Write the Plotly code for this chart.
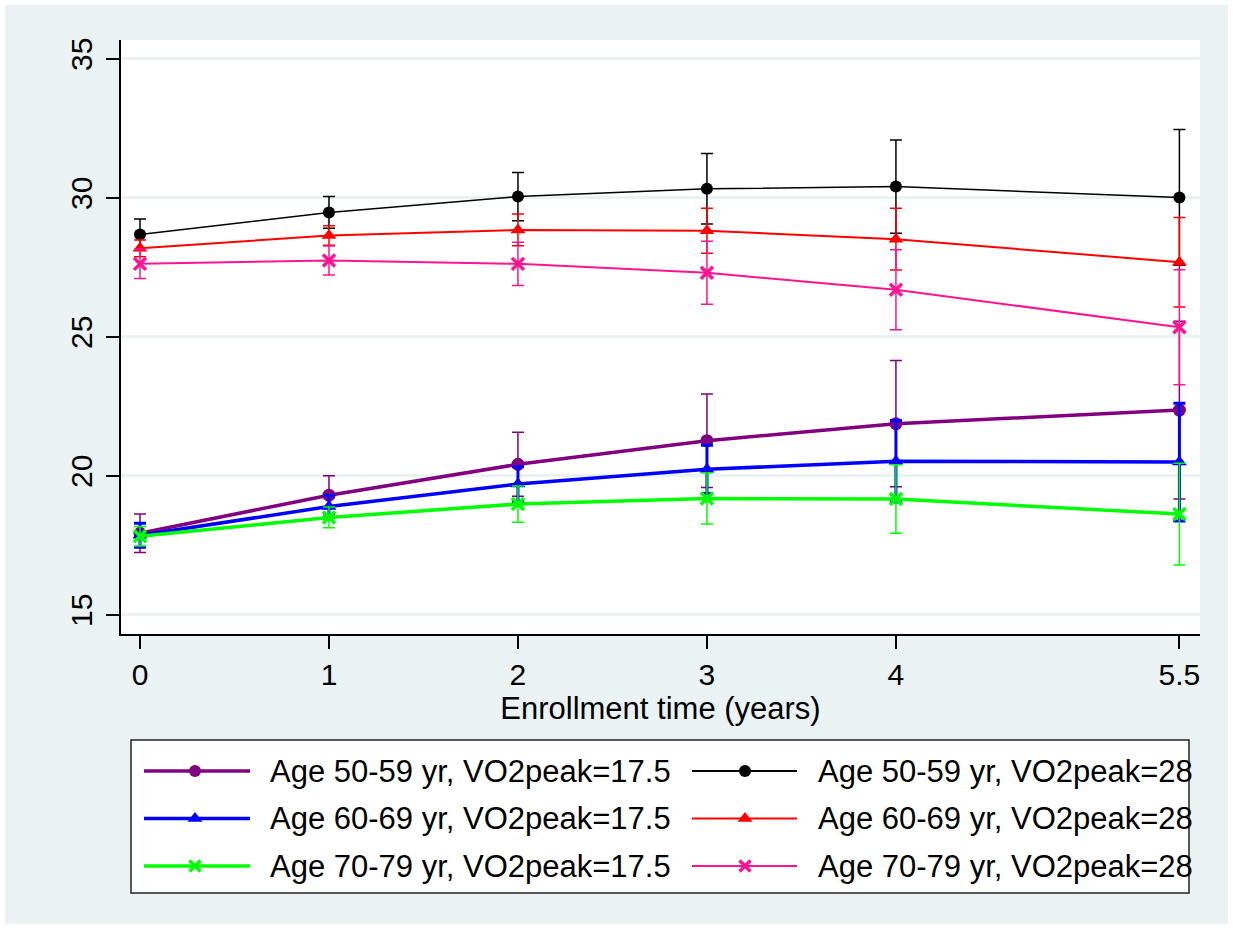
import plotly.graph_objects as go

# ---------------- data ----------------
x_years = [0, 1, 2, 3, 4, 5.5]
x_tick_labels = ["0", "1", "2", "3", "4", "5.5"]
y_ticks = [15, 20, 25, 30, 35]
x_title = "Enrollment time (years)"

series_names = [
    "Age 50-59 yr, VO2peak=17.5",
    "Age 60-69 yr, VO2peak=17.5",
    "Age 70-79 yr, VO2peak=17.5",
    "Age 50-59 yr, VO2peak=28",
    "Age 60-69 yr, VO2peak=28",
    "Age 70-79 yr, VO2peak=28",
]

age50_v17 = [17.93, 19.30, 20.41, 21.26, 21.87, 22.36]
age50_v17_err = [0.69, 0.70, 1.15, 1.68, 2.27, 3.20]
age60_v17 = [17.86, 18.89, 19.70, 20.23, 20.52, 20.49]
age60_v17_err = [0.43, 0.40, 0.62, 0.87, 1.47, 2.12]
age70_v17 = [17.82, 18.50, 18.98, 19.18, 19.16, 18.62]
age70_v17_err = [0.35, 0.37, 0.65, 0.92, 1.23, 1.83]
age50_v28 = [28.68, 29.47, 30.04, 30.32, 30.40, 30.01]
age50_v28_err = [0.55, 0.57, 0.87, 1.27, 1.68, 2.44]
age60_v28 = [28.18, 28.64, 28.84, 28.81, 28.51, 27.68]
age60_v28_err = [0.30, 0.35, 0.57, 0.81, 1.11, 1.61]
age70_v28 = [27.62, 27.74, 27.62, 27.30, 26.69, 25.34]
age70_v28_err = [0.53, 0.52, 0.78, 1.13, 1.44, 2.07]

values = [age50_v17, age60_v17, age70_v17, age50_v28, age60_v28, age70_v28]
errors = [age50_v17_err, age60_v17_err, age70_v17_err,
          age50_v28_err, age60_v28_err, age70_v28_err]

# ---------------- styles ----------------
colors = ["#800080", "#0000ff", "#00ff00", "#000000", "#ff0000", "#ff1493"]
symbols = ["circle", "triangle-up", "x-thin", "circle", "triangle-up", "x-thin"]
line_widths = [3.5, 3.5, 3.5, 1.5, 2, 2]
err_widths = [1.5, 3, 1.5, 1.5, 1.5, 1.5]
marker_sizes = [13, 13, 12, 12, 13, 12]

W, H = 1233, 929
BG = "#eaf2f3"
FONT = "Liberation Sans, Arial, sans-serif"

# plot area in pixels
PL, PR, PT, PB = 121, 1200, 40, 634
# legend box in pixels
LL, LR, LT, LB = 131, 1189, 740, 893

fig = go.Figure()

for name, ys, es, c, s, lw, ew, ms in zip(series_names, values, errors, colors,
                                          symbols, line_widths, err_widths, marker_sizes):
    marker = dict(color=c, size=ms, symbol=s)
    if s == "x-thin":
        marker["line"] = dict(color=c, width=3.5)
    fig.add_trace(go.Scatter(
        x=x_years, y=ys, name=name, mode="lines+markers",
        line=dict(color=c, width=lw), marker=marker,
        error_y=dict(type="data", array=es, visible=True, color=c,
                     thickness=ew, width=6),
        showlegend=False, xaxis="x", yaxis="y",
    ))

# ---------------- custom legend (2 columns, long sample lines) ----------------
col_line = [(144, 195, 250), (692, 745, 797)]
col_text = [268, 816]
row_y = [771, 818.5, 866]
annotations = []
for i, (name, c, s, lw) in enumerate(zip(series_names, colors, symbols, line_widths)):
    col, row = divmod(i, 3)
    x0, xm, x1 = col_line[col]
    yy = row_y[row]
    fig.add_trace(go.Scatter(
        x=[x0, x1], y=[yy, yy], mode="lines",
        line=dict(color=c, width=lw if col == 0 else 2),
        showlegend=False, hoverinfo="skip", xaxis="x2", yaxis="y2"))
    mk = dict(color=c, size=12, symbol=s)
    if s == "triangle-up":
        mk["size"] = 13
    if s == "x-thin":
        mk["line"] = dict(color=c, width=3.5)
        mk["size"] = 11
    fig.add_trace(go.Scatter(
        x=[xm], y=[yy], mode="markers", marker=mk,
        showlegend=False, hoverinfo="skip", xaxis="x2", yaxis="y2"))
    annotations.append(dict(
        x=col_text[col], y=yy, xref="x2", yref="y2", text=name,
        showarrow=False, xanchor="left", yanchor="middle",
        font=dict(family=FONT, size=31, color="black")))

fig.update_layout(
    width=W, height=H,
    margin=dict(l=0, r=0, t=0, b=0),
    paper_bgcolor=BG, plot_bgcolor="white",
    font=dict(family=FONT, size=31, color="black"),
    showlegend=False,
    xaxis=dict(
        domain=[PL / W, PR / W], range=[-0.1005, 5.609],
        tickvals=x_years, ticktext=x_tick_labels,
        ticks="outside", ticklen=13, tickwidth=2, tickcolor="black",
        showline=True, linecolor="black", linewidth=2,
        showgrid=False, zeroline=False, automargin=False,
        tickfont=dict(family=FONT, size=30),
        ticklabelstandoff=0,
        title=dict(text=x_title, font=dict(family=FONT, size=31), standoff=0),
    ),
    yaxis=dict(
        domain=[(H - PB) / H, (H - PT) / H], range=[14.306, 35.673],
        tickvals=y_ticks, tickangle=-90,
        ticks="outside", ticklen=13, tickwidth=2, tickcolor="black",
        showline=True, linecolor="black", linewidth=2,
        showgrid=True, gridcolor=BG, gridwidth=3,
        zeroline=False, automargin=False,
        tickfont=dict(family=FONT, size=30),
        ticklabelstandoff=2,
    ),
    xaxis2=dict(domain=[LL / W, LR / W], range=[LL, LR], visible=False,
                fixedrange=True, anchor="y2"),
    yaxis2=dict(domain=[(H - LB) / H, (H - LT) / H], range=[LB, LT], visible=False,
                fixedrange=True, anchor="x2"),
    annotations=annotations,
    shapes=[
        dict(type="rect", xref="paper", yref="paper", x0=0, x1=1, y0=0, y1=1,
             line=dict(color="white", width=10), fillcolor="rgba(0,0,0,0)",
             layer="below"),
        dict(type="rect", xref="x2 domain", yref="y2 domain", x0=0, x1=1, y0=0, y1=1,
             line=dict(color="#222222", width=1.5), fillcolor="rgba(0,0,0,0)",
             layer="above"),
    ],
)

fig.write_html("out.html")
